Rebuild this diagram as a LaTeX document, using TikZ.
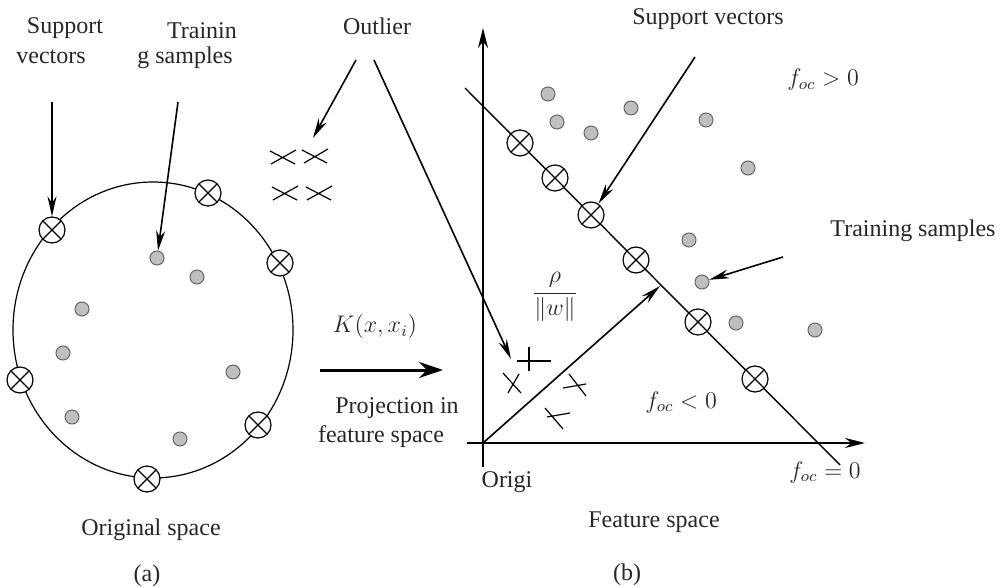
\documentclass[tikz,border=0pt]{standalone}
\usepackage{fontspec}
\setmainfont{Liberation Serif}
\usetikzlibrary{arrows.meta}
\begin{document}
\begin{tikzpicture}[x=0.5pt,y=-0.5pt,
  lbl/.style={font=\fontsize{12}{14}\selectfont, text=black!85, inner sep=0pt},
  sv/.style={circle,draw,line width=0.6pt,fill=white,minimum size=13pt,inner sep=0pt,
     path picture={\draw[line width=0.6pt] (path picture bounding box.north west)--(path picture bounding box.south east) (path picture bounding box.north east)--(path picture bounding box.south west);}},
  dot/.style={circle,draw=black!60,fill=black!25,line width=0.5pt,minimum size=7pt,inner sep=0pt},
  arr/.style={line width=0.8pt,-{Stealth[length=10pt,width=4.5pt]}},
  axis/.style={line width=1.2pt,-{Stealth[length=10pt,width=5pt]}},
  thin/.style={line width=0.6pt},
  xmark/.style={line width=0.6pt}]
\useasboundingbox (0,0) rectangle (1005,587);

% ---------- (a) original space ----------
\draw[thin] (153,330) ellipse [x radius=70pt, y radius=74pt];
\node[sv] (a1) at (52,230) {};
\node[sv] (a2) at (208,193) {};
\node[sv] (a3) at (280,263) {};
\node[sv] (a4) at (20,380) {};
\node[sv] (a5) at (258,425) {};
\node[sv] (a6) at (147,479) {};
\node[dot] (ad1) at (157,258) {};
\node[dot] (ad2) at (197,277) {};
\node[dot] (ad3) at (82,309) {};
\node[dot] (ad4) at (63,353) {};
\node[dot] (ad5) at (233,372) {};
\node[dot] (ad6) at (72,417) {};
\node[dot] (ad7) at (180,439) {};

\node[lbl] (sup1) at (65,28) {Support};
\node[lbl] (sup2) at (51,57) {vectors};
\node[lbl] (tr1) at (202,31) {Trainin};
\node[lbl] (tr2) at (185,58) {g samples};
\coordinate (csup) at (52,102);
\coordinate (ctr) at (178,102);
\draw[arr] (csup) -- (a1);
\draw[arr] (ctr) -- (ad1);

% outliers in original space
\draw[xmark] (270,151)--(295,164) (271,164)--(296,150);
\draw[xmark] (302,150)--(327,163) (304,163)--(328,149);
\draw[xmark] (272,187)--(297,200) (273,200)--(298,186);
\draw[xmark] (306,187)--(331,200) (307,200)--(332,186);

\node[lbl] (outl) at (377,26) {Outlier};
\coordinate (co1) at (356,60);
\coordinate (co2) at (374,60);
\coordinate (to1) at (313,138);
\coordinate (to2) at (511,359);
\draw[arr] (co1) -- (to1);
\draw[arr] (co2) -- (to2);

\node[lbl] (orig) at (151,530) {Original space};
\node[lbl] (capa) at (147,576) {(a)};

% ---------- mapping ----------
\node[lbl] (kern) at (375,327) {$K(x,x_i)$};
\coordinate (m1) at (320,370);
\coordinate (m2) at (443,370);
\draw[line width=1.5pt,-{Stealth[length=12pt,width=8pt]}] (m1) -- (m2);
\node[lbl] (proj1) at (397,408) {Projection in};
\node[lbl] (proj2) at (381,437) {feature space};

% ---------- (b) feature space ----------
\coordinate (O) at (483,443);
\coordinate (yb) at (483,467);
\coordinate (yt) at (483,28);
\coordinate (xl) at (467,443);
\coordinate (xr) at (865,443);
\draw[axis] (yb) -- (yt);
\draw[axis] (xl) -- (xr);

\coordinate (h1) at (465,88);
\coordinate (h2) at (840,465);
\draw[line width=0.7pt] (h1) -- (h2);

\node[sv] (b1) at (520,143) {};
\node[sv] (b2) at (555,178) {};
\node[sv] (b3) at (591,215) {};
\node[sv] (b4) at (636,260) {};
\node[sv] (b5) at (698,322) {};
\node[sv] (b6) at (755,379) {};

\node[dot] (bd1) at (548,94) {};
\node[dot] (bd2) at (557,122) {};
\node[dot] (bd3) at (631,108) {};
\node[dot] (bd4) at (591,133) {};
\node[dot] (bd5) at (706,120) {};
\node[dot] (bd6) at (748,168) {};
\node[dot] (bd7) at (689,240) {};
\node[dot] (bd8) at (702,282) {};
\node[dot] (bd9) at (736,323) {};
\node[dot] (bd10) at (815,330) {};

\coordinate (rt) at (660,286);
\draw[arr] (O) -- (rt);
\node[lbl] (frac) at (555,297) {$\displaystyle\frac{\rho}{\|w\|}$};

% outliers in feature space
\draw[xmark] (517,361)--(551,361) (529,347)--(529,371);
\draw[xmark] (503,373)--(521,393) (508,393)--(519,374);
\draw[xmark] (563,388)--(586,384) (569,374)--(586,396);
\draw[xmark] (547,417)--(570,413) (545,408)--(563,429);

\node[lbl] (supb) at (708,19) {Support vectors};
\coordinate (csb) at (695,57);
\draw[arr] (csb) -- (b3);
\node[lbl] (trb) at (913,231) {Training samples};
\coordinate (ctb) at (783,257);
\draw[arr] (ctb) -- (bd8);

\node[lbl] (fpos) at (823,80) {$f_{oc}>0$};
\node[lbl] (fneg) at (681,402) {$f_{oc}<0$};
\node[lbl] (fzero) at (825,472) {$f_{oc}=0$};
\node[lbl] (origin) at (507,482) {Origi};
\node[lbl] (feat) at (654,522) {Feature space};
\node[lbl] (capb) at (627,575) {(b)};
\end{tikzpicture}
\end{document}
